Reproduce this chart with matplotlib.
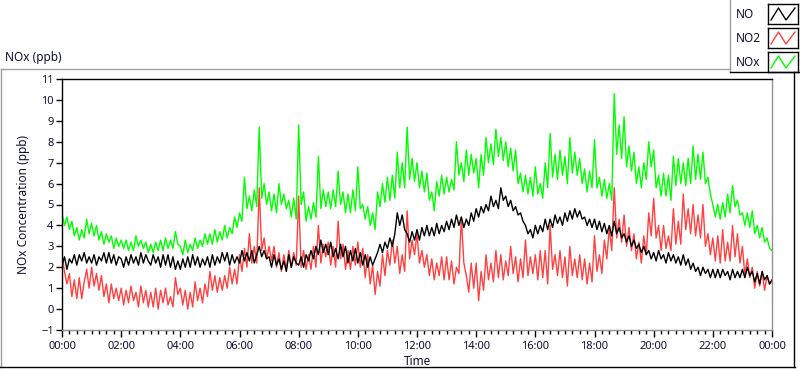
import numpy as np
import matplotlib
matplotlib.use("Agg")
import matplotlib.pyplot as plt
from matplotlib.lines import Line2D

# 5-minute readings, 00:00 .. 24:00, one row per hour
nox = [4.6, 4.0, 4.4, 3.8, 4.2, 3.5, 3.9, 3.3, 3.8, 3.4, 4.3, 3.6,
       4.1, 3.5, 4.0, 3.3, 3.7, 3.1, 3.6, 3.2, 3.5, 2.9, 3.4, 3.0,
       3.3, 2.9, 3.3, 2.8, 3.2, 2.8, 3.5, 3.0, 3.3, 2.9, 3.2, 2.7,
       3.1, 2.7, 3.2, 2.8, 3.3, 2.8, 3.4, 2.9, 3.3, 2.9, 3.7, 3.1,
       3.0, 2.6, 3.3, 2.7, 3.1, 2.8, 3.4, 2.9, 3.3, 3.0, 3.6, 3.1,
       3.6, 3.1, 3.8, 3.2, 3.7, 3.3, 4.0, 3.4, 3.9, 3.6, 4.4, 3.9,
       4.6, 4.2, 6.3, 4.8, 5.4, 4.7, 5.7, 4.9, 8.7, 5.3, 6.0, 5.0,
       5.6, 4.7, 5.5, 4.6, 6.0, 5.0, 5.5, 4.8, 5.2, 4.4, 5.3, 4.3,
       8.8, 5.0, 5.6, 4.2, 4.9, 4.3, 5.1, 4.4, 7.3, 4.8, 5.7, 4.9,
       5.6, 4.8, 5.7, 4.9, 6.6, 5.0, 5.6, 4.6, 5.5, 4.6, 5.7, 4.7,
       6.8, 4.8, 5.0, 4.3, 4.9, 4.0, 4.6, 3.8, 5.6, 4.9, 6.0, 5.1,
       6.3, 5.2, 6.4, 5.3, 7.5, 5.8, 7.0, 5.8, 8.7, 6.2, 7.2, 6.1,
       7.0, 5.8, 6.6, 5.6, 6.5, 5.2, 5.6, 4.7, 6.1, 5.4, 6.4, 5.5,
       6.3, 5.6, 6.2, 5.7, 8.0, 6.4, 7.0, 6.1, 7.6, 6.4, 7.4, 6.5,
       7.2, 5.8, 7.4, 6.4, 8.2, 7.0, 7.9, 6.9, 8.6, 7.3, 8.2, 7.1,
       8.0, 6.8, 7.7, 6.6, 7.6, 6.0, 6.5, 5.6, 6.4, 5.5, 6.3, 5.4,
       6.8, 5.5, 6.0, 5.3, 7.0, 5.8, 8.4, 6.3, 7.4, 6.2, 7.6, 6.4,
       7.3, 6.0, 8.2, 6.5, 7.5, 6.4, 7.2, 6.0, 6.7, 5.6, 6.6, 5.8,
       8.1, 5.8, 6.3, 5.4, 6.2, 5.3, 6.0, 5.2, 10.3, 7.4, 8.8, 7.2,
       9.2, 6.8, 7.8, 6.6, 7.5, 6.0, 6.8, 5.8, 7.0, 6.2, 8.0, 6.8,
       7.6, 5.8, 6.4, 5.4, 6.5, 5.4, 6.4, 5.2, 7.3, 5.9, 7.2, 6.0,
       7.0, 5.9, 7.2, 6.0, 7.8, 6.2, 7.4, 6.2, 7.5, 6.0, 6.3, 5.5,
       5.0, 4.4, 5.0, 4.3, 5.1, 4.4, 5.5, 4.6, 5.9, 4.9, 5.2, 4.5,
       4.6, 4.0, 4.6, 3.9, 4.7, 3.6, 4.0, 3.4, 3.9, 3.2, 3.4, 2.9,
       2.8]

no = [2.1, 2.5, 1.9, 2.4, 2.2, 2.6, 2.1, 2.6, 2.3, 2.7, 2.2, 2.5,
      2.2, 2.6, 2.1, 2.5, 2.3, 2.7, 2.2, 2.7, 2.2, 2.6, 2.1, 2.5,
      2.4, 2.0, 2.5, 2.1, 2.6, 2.2, 2.5, 2.1, 2.7, 2.2, 2.6, 2.3,
      2.1, 2.6, 2.2, 2.5, 2.0, 2.6, 2.1, 2.6, 2.0, 2.5, 1.9, 2.3,
      1.9, 2.4, 2.0, 2.5, 2.0, 2.6, 2.1, 2.5, 2.0, 2.4, 2.1, 2.5,
      2.0, 2.6, 2.1, 2.5, 2.2, 2.7, 2.3, 2.7, 2.1, 2.6, 2.2, 2.5,
      2.2, 2.8, 2.3, 2.7, 2.3, 2.8, 2.2, 2.6, 3.0, 2.5, 2.8, 2.4,
      2.5, 2.0, 2.6, 2.1, 2.4, 1.9, 2.3, 1.8, 2.6, 2.0, 2.5, 2.2,
      2.1, 2.5, 2.0, 2.6, 2.3, 2.8, 2.4, 3.0, 2.6, 3.3, 2.7, 3.1,
      2.6, 3.2, 2.5, 2.9, 2.4, 3.1, 2.5, 3.0, 2.2, 2.8, 2.3, 2.9,
      2.2, 2.7, 2.1, 2.6, 2.0, 2.5, 2.1, 2.4, 2.7, 3.1, 2.7, 3.2,
      2.9, 3.4, 3.0, 3.6, 4.6, 4.0, 4.5, 3.8, 3.6, 3.2, 3.7, 3.3,
      3.8, 3.3, 3.9, 3.5, 4.0, 3.5, 3.9, 3.5, 4.1, 3.6, 4.0, 3.7,
      4.2, 3.8, 4.3, 3.9, 4.5, 4.0, 4.4, 3.9, 4.3, 4.0, 4.6, 4.2,
      4.8, 4.4, 4.9, 4.6, 5.0, 4.7, 5.4, 4.9, 5.2, 4.8, 5.8, 5.2,
      5.4, 4.9, 5.2, 4.7, 4.9, 4.5, 4.6, 4.2, 4.0, 3.6, 3.8, 3.4,
      4.0, 3.6, 4.0, 3.7, 4.3, 3.8, 4.3, 3.9, 4.5, 4.1, 4.4, 4.0,
      4.6, 4.2, 4.7, 4.3, 4.8, 4.4, 4.7, 4.3, 4.4, 4.0, 4.3, 3.9,
      4.3, 3.8, 4.2, 3.7, 4.1, 3.6, 4.0, 3.5, 4.2, 3.6, 3.9, 3.4,
      3.6, 3.2, 3.5, 3.0, 3.3, 2.9, 3.1, 2.7, 3.0, 2.6, 2.8, 2.4,
      2.7, 2.3, 2.8, 2.4, 2.6, 2.2, 2.7, 2.3, 2.6, 2.2, 2.5, 2.1,
      2.6, 2.1, 2.4, 1.9, 2.2, 1.8, 2.0, 1.6, 2.0, 1.7, 1.9, 1.5,
      1.9, 1.5, 1.9, 1.5, 1.9, 1.6, 1.8, 1.4, 1.9, 1.5, 1.8, 1.5,
      1.9, 1.5, 2.0, 1.6, 1.8, 1.3, 1.7, 1.2, 1.8, 1.4, 1.6, 1.2,
      1.4]

no2 = [2.6, 1.8, 1.2, 1.7, 0.6, 1.4, 0.5, 1.5, 0.5, 1.3, 1.9, 1.0,
       2.0, 1.1, 1.7, 0.9, 1.6, 0.6, 1.2, 0.3, 1.2, 0.5, 1.0, 0.4,
       1.0, 0.2, 0.9, 0.3, 1.1, 0.4, 0.8, 0.1, 1.1, 0.3, 0.9, 0.1,
       0.8, 0.1, 1.0, 0.0, 0.9, 0.3, 1.0, 0.2, 0.6, 0.1, 1.5, 0.7,
       1.0, 0.2, 0.9, 0.0, 0.8, 0.1, 1.3, 0.4, 1.0, 0.3, 1.2, 0.6,
       1.8, 0.9, 1.6, 0.8, 1.5, 0.9, 1.6, 1.0, 2.0, 1.2, 1.9, 1.2,
       2.6, 1.8, 2.9, 2.0, 3.6, 2.2, 3.0, 2.2, 5.8, 2.8, 3.4, 2.4,
       3.0, 2.3, 3.0, 2.0, 2.7, 1.8, 2.6, 1.9, 2.8, 2.0, 2.7, 2.1,
       5.4, 2.0, 2.8, 1.9, 2.6, 1.9, 3.0, 2.0, 4.0, 2.2, 3.1, 2.5,
       3.2, 2.1, 3.0, 2.0, 4.2, 2.4, 3.1, 1.9, 2.8, 1.9, 3.0, 2.1,
       3.2, 2.0, 2.9, 1.5, 2.6, 1.2, 2.1, 0.7, 1.8, 1.1, 2.6, 1.6,
       2.8, 2.1, 3.3, 2.2, 3.0, 1.7, 2.6, 1.8, 4.7, 2.4, 3.3, 2.6,
       3.6, 2.2, 2.8, 2.0, 2.6, 1.6, 2.4, 1.4, 2.2, 1.6, 2.5, 1.4,
       2.5, 1.4, 2.3, 1.2, 2.0, 1.7, 4.4, 2.2, 1.6, 0.8, 2.2, 1.0,
       2.2, 0.4, 1.8, 0.9, 2.6, 1.4, 2.2, 1.3, 2.8, 1.5, 2.6, 1.4,
       2.3, 1.6, 3.0, 1.7, 2.5, 1.3, 2.4, 1.5, 3.3, 1.6, 2.5, 1.7,
       2.6, 1.4, 2.8, 1.5, 2.8, 1.2, 4.0, 1.9, 2.6, 1.6, 2.8, 1.5,
       2.5, 1.1, 3.0, 1.6, 2.4, 1.5, 2.6, 1.4, 2.4, 1.2, 2.2, 1.3,
       3.5, 1.8, 2.6, 1.7, 3.3, 2.4, 3.9, 2.8, 5.8, 3.4, 4.3, 3.2,
       4.5, 3.0, 3.9, 2.8, 3.6, 2.4, 3.2, 2.2, 3.5, 2.6, 4.6, 3.5,
       5.3, 3.4, 4.0, 2.8, 4.0, 2.9, 3.5, 2.8, 4.8, 3.1, 4.2, 3.1,
       5.5, 3.8, 4.8, 3.6, 5.0, 3.5, 4.5, 3.4, 5.0, 3.0, 3.6, 2.6,
       3.4, 2.3, 3.5, 2.2, 3.8, 2.3, 3.2, 2.3, 4.0, 2.5, 3.6, 2.2,
       3.0, 1.6, 2.4, 1.5, 2.0, 1.0, 1.8, 1.1, 1.8, 0.9, 1.6, 1.2,
       1.3]

hours = np.arange(len(nox)) / 12.0

series_names = ["NO", "NO2", "NOx"]
series_colors = ["#000000", "#ff4040", "#00ff00"]
x_tick_labels = ["%02d:00" % h for h in range(0, 24, 2)] + ["00:00"]

plt.rcParams['font.family'] = ['Noto Sans', 'DejaVu Sans']
txt = "#101030"

fig = plt.figure(figsize=(8, 3.69), dpi=100)
W, H = 800.0, 369.0
ax = fig.add_axes([62 / W, 1 - 330 / H, 710 / W, 251 / H])

ax.plot(hours, nox, color=series_colors[2], lw=1)
ax.plot(hours, no2, color=series_colors[1], lw=1)
ax.plot(hours, no, color=series_colors[0], lw=1)

ax.set_xlim(0, 24)
ax.set_ylim(-1, 11)
ax.set_xticks(np.arange(0, 25, 2))
ax.set_xticklabels(x_tick_labels)
ax.set_xticks(np.arange(0, 24.01, 0.25), minor=True)
ax.set_yticks(np.arange(-1, 12, 1))
ax.tick_params(axis='x', which='major', length=5, width=1, pad=3, labelsize=8, labelcolor=txt)
ax.tick_params(axis='x', which='minor', length=3, width=1)
ax.tick_params(axis='y', length=4, width=1, pad=2, labelsize=8, labelcolor=txt)
ax.spines['left'].set_color('black')
ax.spines['top'].set_color('black')
ax.spines['right'].set_color('#909090')
ax.spines['bottom'].set_color('#909090')
for s in ax.spines.values():
    s.set_linewidth(1)
ax.set_xlabel("Time", fontsize=8.5, color=txt, labelpad=2)
ax.set_ylabel("NOx Concentration (ppb)", fontsize=8.5, color=txt, labelpad=8)

fig.text(5 / W, 1 - 58 / H, "NOx (ppb)", fontsize=8.5, color=txt, va='center', ha='left')

# outer frame
fig.add_artist(Line2D([0.5 / W, 730 / W], [1 - 69 / H, 1 - 69 / H], color='#a0a0a0', lw=1))
fig.add_artist(Line2D([0.5 / W, 0.5 / W], [1 - 69 / H, 1 - 367 / H], color='#a0a0a0', lw=1))
fig.add_artist(Line2D([0, 795 / W], [1 - 367 / H, 1 - 367 / H], color='black', lw=1))
fig.add_artist(Line2D([794 / W, 794 / W], [1 - 72 / H, 1 - 367 / H], color='black', lw=1))

# legend box
fig.add_artist(Line2D([730 / W, 730 / W], [1, 1 - 72 / H], color='#a0a0a0', lw=1))
fig.add_artist(Line2D([730 / W, 1], [1 - 72 / H, 1 - 72 / H], color='black', lw=1))
for i, (name, col) in enumerate(zip(series_names, series_colors)):
    yc = 14 + i * 24
    fig.text(736 / W, 1 - yc / H, name, fontsize=8.5, color=txt, va='center', ha='left')
    lax = fig.add_axes([768 / W, 1 - (yc + 10) / H, 30 / W, 20 / H])
    lax.set_xlim(0, 1)
    lax.set_ylim(0, 1)
    lax.set_xticks([])
    lax.set_yticks([])
    for s in lax.spines.values():
        s.set_color('black')
        s.set_linewidth(1)
    lax.plot([0.1, 0.35, 0.6, 0.9], [0.2, 0.8, 0.2, 0.8], color=col, lw=1)

fig.savefig("out.png", dpi=100)
